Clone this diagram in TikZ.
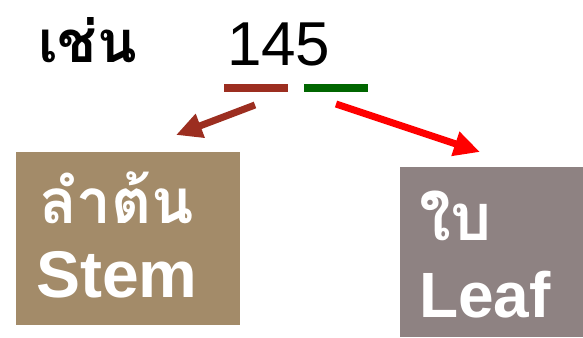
\documentclass[tikz,border=0pt]{standalone}
\usepackage{fontspec}
\setmainfont{Liberation Sans}
\newfontfamily\thaifont[Script=Thai]{Loma}
\usetikzlibrary{arrows.meta}
\definecolor{stembrown}{HTML}{9C2E20}
\definecolor{leafgreen}{HTML}{006600}
\definecolor{stemfill}{HTML}{A38B69}
\definecolor{leaffill}{HTML}{8E8282}
\tikzset{
  txt/.style={inner sep=0pt, outer sep=0pt, anchor=base west},
  digitbar/.style={inner sep=0pt, outer sep=0pt, minimum width=64pt, minimum height=8pt, anchor=north west},
  partbox/.style={inner sep=0pt, outer sep=0pt, anchor=north west},
  fatarrow/.style={line width=7pt, -{Triangle[length=26pt,width=24pt]}},
}
\begin{document}
\begin{tikzpicture}[x=1pt,y=-1pt]
  \useasboundingbox (0,0) rectangle (583,337);
  % heading: example word and number
  \node[txt] (rei) at (38,63) {\thaifont\bfseries\fontsize{58}{60}\selectfont เช่น};
  \node[txt] (num) at (227,65) {\fontsize{62}{64}\selectfont 145};
  % digit underlines
  \node[digitbar, fill=stembrown] (barstem) at (224,84) {};
  \node[digitbar, fill=leafgreen] (barleaf) at (304,84) {};
  % stem and leaf boxes
  \node[partbox, fill=stemfill, minimum width=224pt, minimum height=173pt] (stem) at (16,152) {};
  \node[partbox, fill=leaffill, minimum width=183pt, minimum height=170pt] (leaf) at (400,167) {};
  \node[txt, text=white] (stemth) at (39,223) {\thaifont\bfseries\fontsize{62}{64}\selectfont ลำต้น};
  \node[txt, text=white] (stemen) at (36,297) {\bfseries\fontsize{66}{68}\selectfont Stem};
  \node[txt, text=white] (leafth) at (419,240) {\thaifont\bfseries\fontsize{65}{67}\selectfont ใบ};
  \node[txt, text=white] (leafen) at (419,317) {\bfseries\fontsize{64}{66}\selectfont Leaf};
  % arrows from the digit groups to the boxes
  \coordinate (sfrom) at (255,105);
  \coordinate (sto) at (176,135);
  \coordinate (lfrom) at (336,104);
  \coordinate (lto) at (480,152);
  \draw[fatarrow, stembrown] (sfrom) -- (sto);
  \draw[fatarrow, red] (lfrom) -- (lto);
\end{tikzpicture}
\end{document}
